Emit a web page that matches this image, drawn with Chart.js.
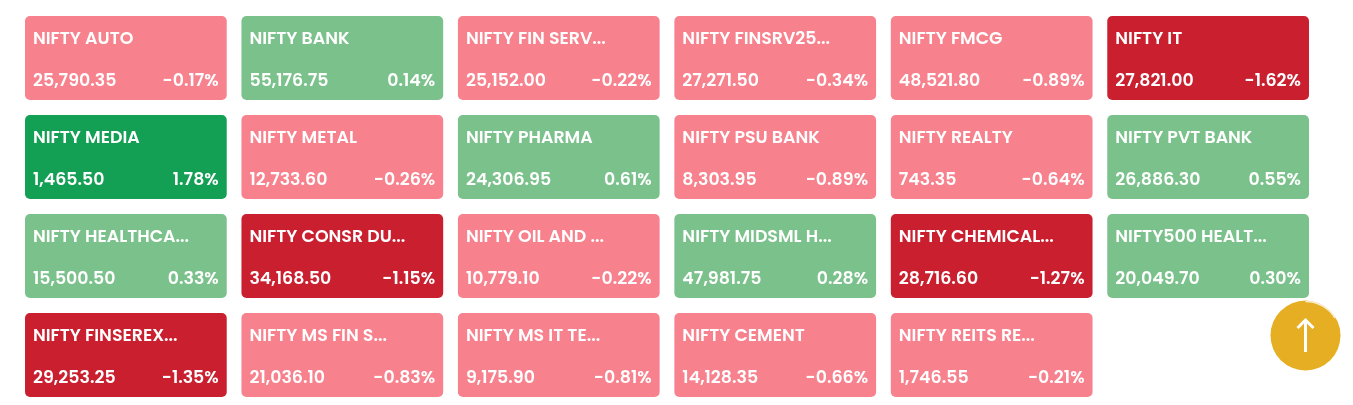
<!DOCTYPE html>
<html>
<head>
<meta charset="utf-8">
<script src="https://cdn.jsdelivr.net/npm/chart.js"></script>
<style>
  html, body { margin: 0; padding: 0; background: #fff; }
  #wrap { position: relative; width: 1353px; height: 405px; }
  #top-btn { position: absolute; left: 1270px; top: 300px; width: 71px; height: 71px; }
</style>
</head>
<body>
<div id="wrap">
  <canvas id="heatmap" width="1353" height="405"></canvas>
  <svg id="top-btn" viewBox="0 0 71 71">
    <circle cx="35.5" cy="35.5" r="35" fill="#e6ae22"/>
    <path d="M35.5 1.5 A34 34 0 0 1 65 18" fill="none" stroke="#fff" stroke-width="1.5" opacity="0.8"/>
    <line x1="35.5" y1="20" x2="35.5" y2="52" stroke="#fff" stroke-width="3"/>
    <path d="M27.5 28 L35.5 20 L43.5 28" fill="none" stroke="#fff" stroke-width="3"/>
  </svg>
</div>
<script>
const indexNames = [
  'NIFTY AUTO', 'NIFTY BANK', 'NIFTY FIN SERV...', 'NIFTY FINSRV25...', 'NIFTY FMCG', 'NIFTY IT',
  'NIFTY MEDIA', 'NIFTY METAL', 'NIFTY PHARMA', 'NIFTY PSU BANK', 'NIFTY REALTY', 'NIFTY PVT BANK',
  'NIFTY HEALTHCA...', 'NIFTY CONSR DU...', 'NIFTY OIL AND ...', 'NIFTY MIDSML H...', 'NIFTY CHEMICAL...', 'NIFTY500 HEALT...',
  'NIFTY FINSEREX...', 'NIFTY MS FIN S...', 'NIFTY MS IT TE...', 'NIFTY CEMENT', 'NIFTY REITS RE...'
];
const lastPrices = [
  '25,790.35', '55,176.75', '25,152.00', '27,271.50', '48,521.80', '27,821.00',
  '1,465.50', '12,733.60', '24,306.95', '8,303.95', '743.35', '26,886.30',
  '15,500.50', '34,168.50', '10,779.10', '47,981.75', '28,716.60', '20,049.70',
  '29,253.25', '21,036.10', '9,175.90', '14,128.35', '1,746.55'
];
const changes = [
  -0.17, 0.14, -0.22, -0.34, -0.89, -1.62,
  1.78, -0.26, 0.61, -0.89, -0.64, 0.55,
  0.33, -1.15, -0.22, 0.28, -1.27, 0.30,
  -1.35, -0.83, -0.81, -0.66, -0.21
];
const rowLabels = ['row1', 'row2', 'row3', 'row4'];
const columnCount = 6;

function tileColor(v) {
  if (v >= 1) return '#139f54';
  if (v > 0) return '#7bc18b';
  if (v <= -1) return '#c91f2f';
  return '#f7818d';
}

const gap = 0.068;
const datasets = [];
for (let c = 0; c < columnCount; c++) {
  const data = [];
  const colors = [];
  const idx = [];
  rowLabels.forEach((r, ri) => {
    const i = ri * columnCount + c;
    if (i < indexNames.length) {
      data.push([c, c + 1 - gap]);
      colors.push(tileColor(changes[i]));
      idx.push(i);
    } else {
      data.push(null);
      colors.push('transparent');
      idx.push(-1);
    }
  });
  datasets.push({
    data: data,
    tileIndex: idx,
    backgroundColor: colors,
    borderRadius: 5,
    borderSkipped: false,
    grouped: false,
    barPercentage: 1,
    categoryPercentage: 0.848
  });
}

const tileText = {
  id: 'tileText',
  afterDatasetsDraw(chart) {
    const ctx = chart.ctx;
    ctx.save();
    ctx.fillStyle = '#fff';
    ctx.textBaseline = 'alphabetic';
    ctx.font = '600 17.4px Poppins, Inter, sans-serif';
    chart.data.datasets.forEach((ds, di) => {
      const meta = chart.getDatasetMeta(di);
      meta.data.forEach((el, ri) => {
        const i = ds.tileIndex[ri];
        if (i < 0) return;
        const left = Math.min(el.x, el.base);
        const right = Math.max(el.x, el.base);
        const top = el.y - el.height / 2;
        ctx.textAlign = 'left';
        ctx.fillText(indexNames[i], left + 8, top + 28);
        ctx.fillText(lastPrices[i], left + 8, top + 70);
        ctx.textAlign = 'right';
        ctx.fillText(changes[i].toFixed(2) + '%', right - 8, top + 70);
      });
    });
    ctx.restore();
  }
};

new Chart(document.getElementById('heatmap'), {
  type: 'bar',
  data: { labels: rowLabels, datasets: datasets },
  options: {
    indexAxis: 'y',
    responsive: false,
    animation: false,
    layout: { padding: { left: 25, right: 44, top: 8.5, bottom: 0.5 } },
    scales: {
      x: { type: 'linear', min: 0, max: columnCount - gap, display: false },
      y: { type: 'category', display: false, offset: true }
    },
    plugins: { legend: { display: false }, tooltip: { enabled: false } }
  },
  plugins: [tileText]
});
</script>
</body>
</html>
